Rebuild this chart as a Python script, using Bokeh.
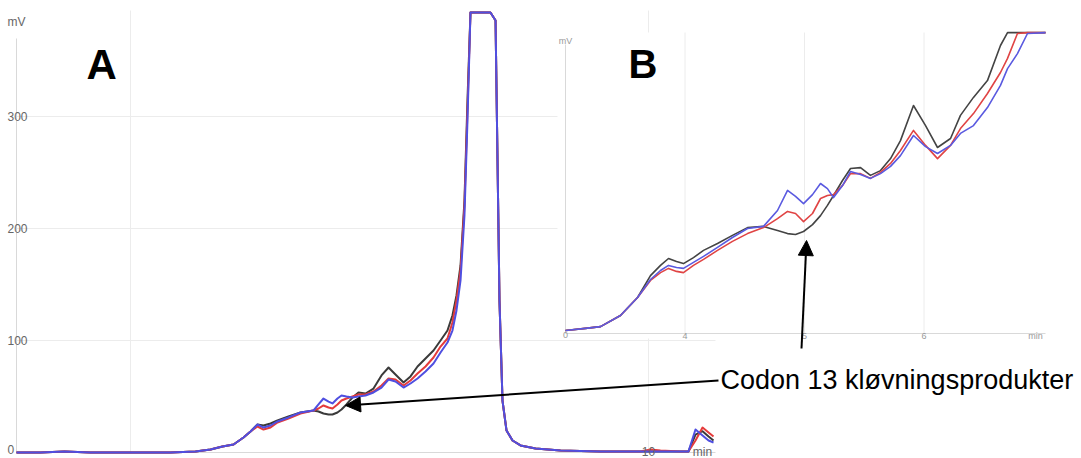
from bokeh.plotting import figure
from bokeh.models import Range1d, Arrow, NormalHead, Label
from bokeh.core.properties import value
from bokeh.embed import file_html
from bokeh.resources import INLINE

# ---------------- Data: main chromatogram (A) ----------------
main_time = [3.900, 4.132, 4.363, 4.614, 5.000, 5.386, 5.628, 5.773, 5.888, 5.995,
             6.091, 6.159, 6.226, 6.284, 6.352, 6.419, 6.525, 6.641, 6.767, 6.815,
             6.863, 6.912, 6.950, 6.998, 7.037, 7.085, 7.143, 7.201, 7.269, 7.346,
             7.423, 7.491, 7.558, 7.636, 7.703, 7.771, 7.848, 7.925, 7.993, 8.060,
             8.108, 8.147, 8.186, 8.224, 8.253, 8.282, 8.379, 8.475, 8.524, 8.543,
             8.562, 8.591, 8.630, 8.688, 8.765, 8.910, 9.151, 9.537, 9.923, 10.020,
             10.116, 10.309, 10.386, 10.454, 10.522, 10.580, 10.628]
main_black = [0, 0, 0.9, 0, 0, 0, 0.9, 2.7, 5.4, 7.1,
              13.4, 18.8, 25.0, 24.1, 25.9, 28.6, 32.1, 35.7, 37.5, 36.6,
              34.8, 33.9, 33.9, 35.7, 38.4, 42.9, 49.1, 53.6, 52.7, 57.1,
              68.8, 75.9, 69.6, 62.5, 67.9, 76.8, 83.9, 91.1, 100.0, 108.9,
              122.3, 140.2, 167.0, 225.0, 314.3, 392.9, 392.9, 392.9, 385.7, 260.7,
              135.7, 46.4, 19.6, 10.7, 6.3, 3.6, 1.8, 0.9, 0.9, 0.9,
              0.9, 0.9, 0.9, 16.0, 19.0, 14.3, 10.7]
main_red = [0, 0, 0.9, 0, 0, 0, 0.9, 2.7, 5.4, 7.1,
            13.4, 18.8, 23.2, 20.5, 22.3, 26.8, 30.4, 34.8, 37.5, 39.3,
            42.0, 40.2, 39.3, 42.9, 46.4, 48.2, 50.0, 51.8, 51.8, 54.5,
            59.8, 66.1, 65.2, 59.8, 64.3, 70.5, 76.8, 84.8, 94.6, 101.8,
            116.1, 135.7, 162.5, 220.5, 305.4, 392.9, 392.9, 392.9, 385.7, 260.7,
            135.7, 46.4, 19.6, 10.7, 6.3, 3.6, 1.8, 0.9, 0.9, 2.7,
            1.8, 0.9, 0.9, 10.7, 22.3, 17.9, 14.3]
main_blue = [0, 0, 0.9, 0, 0, 0, 0.9, 2.7, 5.4, 7.1,
             13.4, 18.8, 25.0, 22.3, 24.1, 27.7, 31.3, 35.7, 37.5, 42.9,
             48.2, 45.5, 43.8, 48.2, 50.9, 50.0, 49.1, 50.0, 50.9, 53.6,
             58.0, 65.2, 63.4, 58.0, 61.6, 66.1, 72.3, 79.5, 89.3, 98.2,
             108.9, 126.8, 153.6, 211.6, 296.4, 392.9, 392.9, 392.9, 385.7, 260.7,
             135.7, 46.4, 19.6, 10.7, 6.3, 3.6, 1.8, 0.9, 0.9, 0.9,
             0.9, 0.9, 0.9, 20.5, 15.2, 10.7, 8.9]
main_y_ticks = [0, 100, 200, 300]
main_y_labels = ["0", "100", "200", "300"]
main_x_grid = [5, 10]
main_x_ticks = [10]
main_x_labels = ["10"]

# ---------------- Data: zoomed inset (B) ----------------
inset_time = [3.000, 3.167, 3.293, 3.460, 3.603, 3.711, 3.795, 3.862, 3.929, 3.987,
              4.071, 4.155, 4.272, 4.397, 4.523, 4.657, 4.774, 4.858, 4.925, 4.992,
              5.067, 5.134, 5.192, 5.243, 5.318, 5.385, 5.469, 5.552, 5.636, 5.720,
              5.803, 5.912, 6.013, 6.113, 6.222, 6.305, 6.414, 6.531, 6.640, 6.699,
              6.782, 6.866, 7.017]
inset_black = [1.0, 1.7, 2.3, 6.0, 12.0, 19.3, 22.7, 25.0, 24.0, 23.3,
               25.3, 27.7, 30.0, 32.7, 35.3, 35.7, 34.3, 33.3, 33.0, 34.0,
               36.3, 39.3, 42.7, 46.0, 51.0, 55.0, 55.3, 52.7, 54.3, 58.3,
               64.3, 76.0, 69.3, 62.0, 65.0, 72.7, 78.7, 84.3, 96.0, 100.3,
               100.3, 100.3, 100.3]
inset_red = [1.0, 1.7, 2.3, 6.0, 12.0, 17.7, 20.3, 21.7, 20.7, 20.3,
             22.7, 24.7, 27.7, 30.7, 33.3, 35.3, 38.3, 40.7, 40.0, 37.3,
             40.0, 45.0, 46.0, 46.3, 49.3, 53.3, 53.3, 51.7, 53.7, 56.7,
             61.0, 67.7, 62.7, 58.3, 62.7, 68.3, 73.3, 80.0, 87.0, 91.7,
             100.0, 100.3, 100.3]
inset_blue = [1.0, 1.7, 2.3, 6.0, 12.0, 18.0, 21.0, 22.7, 22.0, 21.7,
              23.7, 25.7, 28.7, 32.0, 35.0, 35.7, 41.0, 47.7, 45.7, 43.3,
              46.3, 50.0, 48.3, 45.3, 49.3, 54.0, 53.0, 51.7, 53.3, 55.7,
              59.3, 66.0, 62.3, 60.0, 62.7, 66.7, 69.3, 75.3, 82.7, 88.3,
              93.3, 100.0, 100.3]
inset_x_ticks = [4, 5, 6]
inset_x_labels = ["4", "5", "6"]

annotation_text = "Codon 13 kløvningsprodukter"

# ---------------- Layout ----------------
W, H = 1081, 458
FONT = "Liberation Sans"

# main chart: pixel anchors
M_PX0, M_T0, M_SX = 16, 3.9, 103.6      # x pixel of t0, px per minute
M_PY0, M_SY = 452, 1.12                  # y pixel of 0 mV, px per mV
M_X_END = M_T0 + (715 - M_PX0) / M_SX
M_Y_TOP = (M_PY0 - 10) / M_SY

# inset chart: pixel anchors
I_PX0, I_T0, I_SX = 565, 3.0, 119.5
I_PY0, I_SY = 333, 3.0
I_Y_TOP = (I_PY0 - 32) / I_SY


def xr(px0, t0, sx):
    s = t0 - px0 / sx
    return Range1d(s, s + W / sx)


def yr(py0, sy):
    s = -(H - py0) / sy
    return Range1d(s, s + H / sy)


p = figure(width=W, height=H, x_range=xr(M_PX0, M_T0, M_SX), y_range=yr(M_PY0, M_SY),
           x_axis_type=None, y_axis_type=None, toolbar_location=None,
           output_backend="svg", min_border=0, outline_line_color=None,
           background_fill_color="white", border_fill_color="white")
p.min_border_left = p.min_border_right = p.min_border_top = p.min_border_bottom = 0
p.xgrid.visible = False
p.ygrid.visible = False
p.extra_x_ranges = {"ix": xr(I_PX0, I_T0, I_SX)}
p.extra_y_ranges = {"iy": yr(I_PY0, I_SY)}

GRID = "#ececec"
AXIS = "#d9d9d9"
TICK_TXT = "#666666"

# ---- main grid / axes ----
hy = [v for v in main_y_ticks if v > 0]
p.segment(x0=[M_T0] * len(hy), y0=hy, x1=[M_X_END] * len(hy), y1=hy,
          line_color=GRID, line_width=1)
p.segment(x0=main_x_grid, y0=[0] * len(main_x_grid), x1=main_x_grid,
          y1=[M_Y_TOP] * len(main_x_grid), line_color=GRID, line_width=1)
p.segment(x0=[M_T0], y0=[0], x1=[M_X_END], y1=[0], line_color=AXIS, line_width=1)
p.segment(x0=[M_T0], y0=[0], x1=[M_T0], y1=[M_Y_TOP - 25], line_color=AXIS, line_width=1)

# ---- main curves ----
for ys, col in ((main_black, "#3a3a3a"), (main_red, "#e53b3b"), (main_blue, "#4f4fe0")):
    p.line(main_time, ys, line_color=col, line_width=2, line_join="round")

# ---- main tick labels ----
p.text(x=[M_T0] * len(main_y_ticks), y=main_y_ticks, text=main_y_labels,
       x_offset=-9, y_offset=[-3, 0, 0, 0], text_align="left", text_baseline="middle",
       text_font=value(FONT), text_font_size="12px", text_color=TICK_TXT)
p.text(x=[M_T0], y=[M_Y_TOP], text=["mV"], x_offset=-9, y_offset=11,
       text_align="left", text_baseline="middle",
       text_font=value(FONT), text_font_size="12px", text_color=TICK_TXT)
p.text(x=main_x_ticks, y=[0] * len(main_x_ticks), text=main_x_labels, y_offset=-1,
       text_align="center", text_baseline="middle",
       text_font=value(FONT), text_font_size="12px", text_color=TICK_TXT)
p.text(x=[M_X_END], y=[0], text=["min"], x_offset=-13, y_offset=-1,
       text_align="center", text_baseline="middle",
       text_font=value(FONT), text_font_size="12px", text_color=TICK_TXT)

# ---- inset panel ----
I_LEFT = I_T0 - 8 / I_SX
I_RIGHT = I_T0 + (1050 - I_PX0) / I_SX
I_BOTTOM = -5 / I_SY
p.quad(left=[I_LEFT], right=[I_RIGHT], bottom=[I_BOTTOM], top=[I_Y_TOP],
       fill_color="white", line_color=None, x_range_name="ix", y_range_name="iy")
p.segment(x0=inset_x_ticks, y0=[0] * len(inset_x_ticks), x1=inset_x_ticks,
          y1=[I_Y_TOP] * len(inset_x_ticks), line_color=GRID, line_width=1,
          x_range_name="ix", y_range_name="iy")
I_X_END = I_T0 + (1045 - I_PX0) / I_SX
p.segment(x0=[I_T0], y0=[0], x1=[I_X_END], y1=[0], line_color=AXIS, line_width=1,
          x_range_name="ix", y_range_name="iy")
p.segment(x0=[I_T0], y0=[0], x1=[I_T0], y1=[I_Y_TOP - 4], line_color=AXIS, line_width=1,
          x_range_name="ix", y_range_name="iy")

for ys, col in ((inset_black, "#444444"), (inset_red, "#e04444"), (inset_blue, "#5a5ae0")):
    p.line(inset_time, ys, line_color=col, line_width=1.6, line_join="round",
           x_range_name="ix", y_range_name="iy")

I_TXT = "#999999"
p.text(x=inset_x_ticks, y=[0] * len(inset_x_ticks), text=inset_x_labels, y_offset=2,
       text_align="center", text_baseline="middle", text_font=value(FONT),
       text_font_size="9px", text_color=I_TXT, x_range_name="ix", y_range_name="iy")
p.text(x=[I_T0], y=[0], text=["0"], y_offset=1, text_align="center",
       text_baseline="middle", text_font=value(FONT), text_font_size="9px",
       text_color=I_TXT, x_range_name="ix", y_range_name="iy")
p.text(x=[I_X_END], y=[0], text=["min"], x_offset=-10, y_offset=2, text_align="center",
       text_baseline="middle", text_font=value(FONT), text_font_size="9px",
       text_color=I_TXT, x_range_name="ix", y_range_name="iy")
p.text(x=[I_T0], y=[I_Y_TOP], text=["mV"], y_offset=8, text_align="center",
       text_baseline="middle", text_font=value(FONT), text_font_size="9px",
       text_color=I_TXT, x_range_name="ix", y_range_name="iy")

# ---- panel letters ----
p.add_layout(Label(x=M_T0 + (86 - M_PX0) / M_SX, y=(M_PY0 - 64) / M_SY, text="A",
                   text_font=FONT, text_font_size="42px", text_font_style="bold",
                   text_color="black", text_baseline="alphabetic"))
p.add_layout(Label(x=I_T0 + (628 - I_PX0) / I_SX, y=(I_PY0 - 63) / I_SY, text="B",
                   text_font=FONT, text_font_size="40px", text_font_style="bold",
                   text_color="black", text_baseline="alphabetic",
                   x_range_name="ix", y_range_name="iy"))

# ---- annotation ----
p.add_layout(Label(x=M_T0 + (720 - M_PX0) / M_SX, y=(M_PY0 - 379) / M_SY,
                   text=annotation_text, text_font=FONT, text_font_size="27px",
                   text_color="black", text_baseline="alphabetic"))
p.add_layout(Arrow(end=NormalHead(size=15, fill_color="black", line_color="black"),
                   x_start=M_T0 + (718 - M_PX0) / M_SX, y_start=(M_PY0 - 380) / M_SY,
                   x_end=7.076, y_end=42.0, line_color="black", line_width=2))
p.add_layout(Arrow(end=NormalHead(size=15, fill_color="black", line_color="black"),
                   x_start=4.975, y_start=-5.0, x_end=5.017, y_end=31.0,
                   line_color="black", line_width=2,
                   x_range_name="ix", y_range_name="iy"))

with open("out.html", "w", encoding="utf-8") as f:
    f.write(file_html(p, INLINE))
